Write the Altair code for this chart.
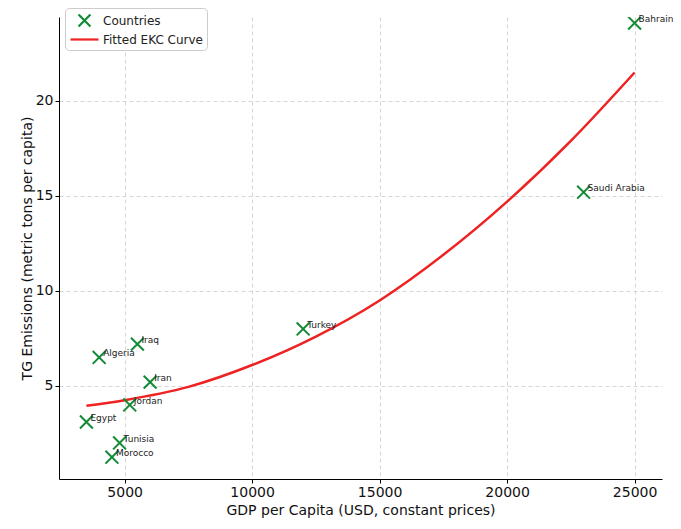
import altair as alt
import pandas as pd

countries = ["Egypt", "Algeria", "Iraq", "Iran", "Jordan", "Tunisia", "Morocco",
             "Turkey", "Saudi Arabia", "Bahrain"]
gdp = [3500, 4000, 5500, 6000, 5200, 4800, 4500, 12000, 23000, 25000]
emissions = [3.1, 6.5, 7.2, 5.2, 4.0, 2.0, 1.25, 8.0, 15.2, 24.1]

curve_gdp = [3500, 5000, 7500, 10000, 12500, 15000, 17500, 20000, 22500, 25000]
curve_em = [3.95, 4.25, 4.95, 6.1, 7.6, 9.5, 11.9, 14.7, 17.9, 21.5]

series_names = ["Countries", "Fitted EKC Curve"]
series_colors = ["#138a36", "#ee2222"]

x_ticks = [5000, 10000, 15000, 20000, 25000]
y_ticks = [5, 10, 15, 20]

pts = pd.DataFrame({"country": countries, "gdp": gdp, "em": emissions,
                    "series": "Countries"})
crv = pd.DataFrame({"gdp": curve_gdp, "em": curve_em, "series": "Fitted EKC Curve"})

XPATH = "M-0.85,-0.85L0.85,0.85M-0.85,0.85L0.85,-0.85"
LINEPATH = "M-2,0L2,0"

xs = alt.Scale(domain=[2425, 26075], nice=False, zero=False)
ys = alt.Scale(domain=[0.1, 24.42], nice=False, zero=False)

x_enc = alt.X("gdp:Q", scale=xs, title="GDP per Capita (USD, constant prices)",
              axis=alt.Axis(values=x_ticks, format="d"))
y_enc = alt.Y("em:Q", scale=ys, title="TG Emissions (metric tons per capita)",
              axis=alt.Axis(values=y_ticks, format="d", titlePadding=1))


def make_legend():
    return alt.Legend(
        title=None, orient="none", legendX=6, legendY=-9,
        padding=4, symbolSize=196, rowPadding=0, labelOffset=10, symbolOffset=7,
        symbolStrokeWidth=2.2, symbolFillColor="transparent",
        labelFontSize=12, labelFont="DejaVu Sans", labelColor="#222222",
        strokeColor="#cccccc", fillColor="rgba(255,255,255,0.85)", cornerRadius=4,
    )


color_enc = alt.Color("series:N", scale=alt.Scale(domain=series_names, range=series_colors),
                      legend=make_legend())
shape_enc = alt.Shape("series:N", scale=alt.Scale(domain=series_names, range=[XPATH, LINEPATH]),
                      legend=make_legend())

line = alt.Chart(crv).mark_line(strokeWidth=2.5, interpolate="monotone").encode(
    x=x_enc, y=y_enc, color=color_enc)

points = alt.Chart(pts).mark_point(filled=False, strokeWidth=2, size=230,
                                   opacity=1, clip=True).encode(
    x=x_enc, y=y_enc, color=color_enc, shape=shape_enc)

labels = alt.Chart(pts).mark_text(align="left", baseline="middle", dx=4, dy=-4,
                                  fontSize=9, font="DejaVu Sans", color="#222222").encode(
    x=x_enc, y=y_enc, text="country:N")

chart = alt.layer(line, points, labels).properties(
    width=603, height=462,
    autosize=alt.AutoSizeParams(type="none"),
    padding={"left": 51, "top": 9, "right": 11, "bottom": 42},
).configure_view(stroke=None).configure_axis(
    labelFont="DejaVu Sans", titleFont="DejaVu Sans",
    labelFontSize=14, titleFontSize=14, titleFontWeight="normal",
    labelColor="#111111", titleColor="#111111",
    domainColor="#000000", domainWidth=1, tickColor="#000000", tickSize=4,
    labelPadding=2, titlePadding=4,
    gridColor="#cccccc", gridDash=[4, 3], gridWidth=0.8,
)

chart.save("out.html", embed_options={"renderer": "svg", "actions": False})
